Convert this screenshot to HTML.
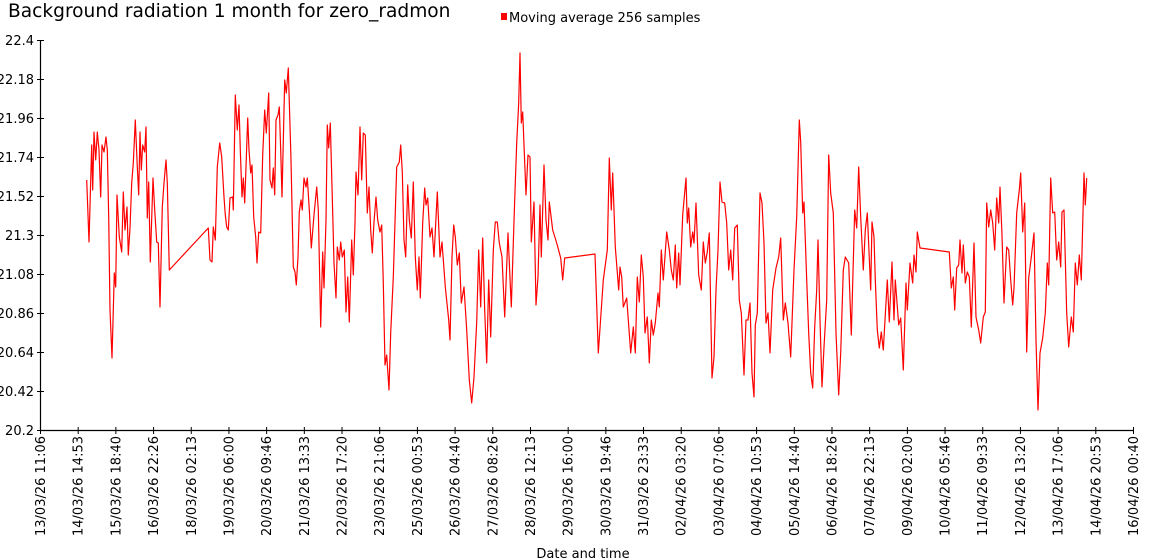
<!DOCTYPE html>
<html><head><meta charset="utf-8"><style>
html,body{margin:0;padding:0;background:#fff;}
svg{display:block;font-family:"DejaVu Sans","Liberation Sans",sans-serif;}
</style></head><body>
<svg width="1150" height="560" xmlns="http://www.w3.org/2000/svg">
<text x="8" y="17" font-size="18.6" fill="#000">Background radiation 1 month for zero_radmon</text>
<rect x="501" y="13" width="6" height="7" fill="#ff0000"/>
<text x="509" y="22" font-size="13" fill="#000">Moving average 256 samples</text>
<g stroke="#000" stroke-width="1.2" fill="none">
<line x1="40.5" y1="40" x2="40.5" y2="430.5"/>
<line x1="40" y1="430.5" x2="1133" y2="430.5"/>
</g>
<g id="yt" font-size="13" text-anchor="end" fill="#000"></g>
<g id="xt" font-size="13" fill="#000"></g>
<text x="583" y="558" font-size="13" text-anchor="middle" fill="#000">Date and time</text>
<polyline id="series" fill="none" stroke="#ff0000" stroke-width="1.2" stroke-linejoin="round" points=""/>
<g id="ticks" stroke="#000" stroke-width="1"></g>
</svg>
<script>
var NS="http://www.w3.org/2000/svg";
var yt=document.getElementById('yt'),tk=document.getElementById('ticks'),xt=document.getElementById('xt');
var yv=["22.4","22.18","21.96","21.74","21.52","21.3","21.08","20.86","20.64","20.42","20.2"];
for(var i=0;i<11;i++){var y=40+i*39;
var t=document.createElementNS(NS,'text');t.setAttribute('x',34);t.setAttribute('y',y+5);t.textContent=yv[i];yt.appendChild(t);
var l=document.createElementNS(NS,'line');l.setAttribute('x1',37);l.setAttribute('x2',44);l.setAttribute('y1',y+0.5);l.setAttribute('y2',y+0.5);tk.appendChild(l);}
var xl=["13/03/26 11:06","14/03/26 14:53","15/03/26 18:40","16/03/26 22:26","18/03/26 02:13","19/03/26 06:00","20/03/26 09:46","21/03/26 13:33","22/03/26 17:20","23/03/26 21:06","25/03/26 00:53","26/03/26 04:40","27/03/26 08:26","28/03/26 12:13","29/03/26 16:00","30/03/26 19:46","31/03/26 23:33","02/04/26 03:20","03/04/26 07:06","04/04/26 10:53","05/04/26 14:40","06/04/26 18:26","07/04/26 22:13","09/04/26 02:00","10/04/26 05:46","11/04/26 09:33","12/04/26 13:20","13/04/26 17:06","14/04/26 20:53","16/04/26 00:40"];
for(var j=0;j<30;j++){var x=40+j*(1093/29);
var l=document.createElementNS(NS,'line');l.setAttribute('x1',x+0.5);l.setAttribute('x2',x+0.5);l.setAttribute('y1',427);l.setAttribute('y2',434);tk.appendChild(l);
var t=document.createElementNS(NS,'text');t.setAttribute('transform','translate('+(x+5)+',436) rotate(-90)');t.setAttribute('text-anchor','end');t.textContent=xl[j];xt.appendChild(t);}
var pts="86.7,180 89,242 91.7,145 92.7,190 94,132 95.7,160 97.3,132 99,150 100.7,197 102,145 104,152 106,137 107.3,150 108.7,217 110,310 112,358 114.3,273 115.7,287 117,195 119.3,237 121.7,252 123.3,192 125,230 127,207 128.3,255 130,228 131.7,183 133.3,163 135.3,120 137.3,167 138.7,195 140,132 141.3,170 142.7,145 144.7,152 146,127 147.3,218 148.7,182 150.3,262 153,178 154.7,210 156.7,242 158.3,243 160,307 162.3,207 164,183 166,160 167.3,183 169.3,270 208.3,228 210,260 212,262 213.3,227 215.3,240 217.3,167 219.7,143 221.7,157 224,197 225.3,215 226.7,227 228.3,230 230,198 232.7,197 233.3,210 235.3,95 237.3,130 239,105 240.3,150 242,197 243.3,178 244.7,203 246,167 247.7,118 249,150 250.7,173 252,165 253.7,217 255.7,237 257,263 258.7,232 260.7,233 262.7,155 264.7,110 266.3,133 268.7,93 270,180 272,188 273.3,168 274.7,195 276,120 278,115 279.3,107 280.7,150 282,197 284.7,80 286.3,93 288.3,68 291,160 293.3,267 295,272 296.3,285 298,257 299.3,212 301,200 302.3,210 304,178 306,187 307.3,178 309.3,210 311.3,248 314,215 316.7,187 318.3,210 320.7,327 322.7,252 324,288 326,220 327.3,125 328.7,148 330.3,123 332.7,213 334,263 336,298 337.3,247 339.3,260 340.7,242 342.3,257 344.3,250 346,312 347.7,277 349.3,322 351.7,240 353.3,275 355,223 356,172 358,195 360,127 361.7,180 363.3,133 365.3,135 367.3,213 369,187 370.7,230 372.3,253 374,222 376,197 377.7,220 380,232 381.7,225 383.3,283 385,365 386.7,355 389,390 390.7,333 393.3,277 396.7,167 399.3,162 400.7,145 402.3,172 404,240 405.7,257 407.7,185 409.3,220 411.3,238 413.3,182 415.3,257 417.3,290 419,257 420.3,298 422.7,223 424.7,188 426,205 427.7,198 430,237 432,228 434,257 437.3,192 440,257 442,242 445.3,287 448.7,320 450,340 452,257 453.7,225 455.3,237 457.3,265 459.3,253 461.3,303 464,287 466.7,330 469.3,380 471.7,403 474,377 476.7,322 478.7,250 480.7,307 482.7,238 484.7,310 486.7,363 488.7,280 490.7,337 493.3,250 495.3,222 497.3,222 499.3,243 502,257 504.7,317 508,233 511.3,307 513.3,243 514.7,200 516.7,143 518.7,103 520,53 521.3,123 522.7,112 526,195 528,155 530,157 531.3,242 534,202 536,305 538,277 540,205 541.3,257 544,165 546,220 548,240 549.3,202 552.7,230 556.7,243 560.7,258 562.7,280 564.7,258 595,254 598.3,353 603.3,280 607.3,250 609.3,158 611.3,210 612.7,173 615.3,247 618.7,290 620,267 621.7,277 623.3,307 626.7,298 630.7,353 633.3,327 635.3,353 637.3,277 639.3,302 641.3,255 643.3,277 645,333 647.3,317 649.3,363 651.3,320 653.3,335 655.3,323 658,293 659.3,307 661.3,250 663.3,280 666.7,232 669.3,250 671.3,270 673.3,280 675.3,245 676.7,288 678.7,253 680,285 682.7,215 686,178 687.3,223 688.7,208 690.7,247 692.7,232 694,243 696,203 698.7,275 701.3,290 703.3,242 705.3,263 707.3,252 709.3,233 712,378 714,357 716,290 718,250 720,182 722,202 724.7,203 726.7,223 728.7,270 730.7,250 732.7,280 734.7,228 737.3,225 739.3,300 741.3,313 744,375 746,320 748,320 750,303 752,373 754,397 755.3,325 757.3,313 760,193 762,203 764,243 766,323 768,313 770,353 772.7,290 776,268 778.7,257 780.7,238 783.3,320 785.3,303 788,323 790.7,357 794,270 796.7,217 799.3,120 800.7,142 802.7,213 804,202 806.7,280 808.7,333 810.7,373 812.7,388 814.7,327 816.7,290 818,240 820,320 822,387 824,347 826.7,300 828.7,155 830.7,193 833.3,213 836,333 838.7,395 840.7,353 843.3,270 845.3,257 848.7,263 851.3,335 854.7,210 856.7,228 858.7,167 860.7,217 863.3,270 865.3,230 867.3,213 870.7,290 872,222 874,237 875.3,280 877.3,330 879.3,348 881.3,332 883.3,350 887.3,280 889.3,322 892,262 894,320 895.3,280 898.7,325 900.7,318 903.3,370 906,283 907.3,310 910,263 912.7,283 914,255 916,272 917.3,232 920,248 949.3,252 951.3,288 953.3,277 954.7,310 956.7,268 958.7,265 960,240 962,273 963.3,245 965.3,283 967.3,272 969.3,277 971.3,327 974,243 976,317 978.7,330 980.7,343 983.3,317 985.3,312 986.7,203 988.7,227 990.7,210 992.7,223 994.7,250 996.7,198 998.7,223 1000,187 1002,235 1004,303 1006.7,247 1008.7,250 1010.7,280 1012.7,305 1014,288 1016.7,213 1019.3,190 1020.7,173 1022.7,232 1024.7,203 1026.7,352 1028.7,278 1031.3,257 1034,233 1036,340 1038,410 1040,353 1042.7,338 1045.3,313 1047.3,263 1048.7,285 1050.7,178 1052.7,213 1054.7,212 1056.7,260 1058.7,242 1060.7,267 1062,212 1064,210 1066.7,313 1068.7,347 1071.3,317 1073.3,332 1075.3,263 1077.3,285 1079.3,255 1081.3,280 1084,173 1085.3,205 1086.7,178";
document.getElementById('series').setAttribute('points',pts);
</script>
</body></html>
